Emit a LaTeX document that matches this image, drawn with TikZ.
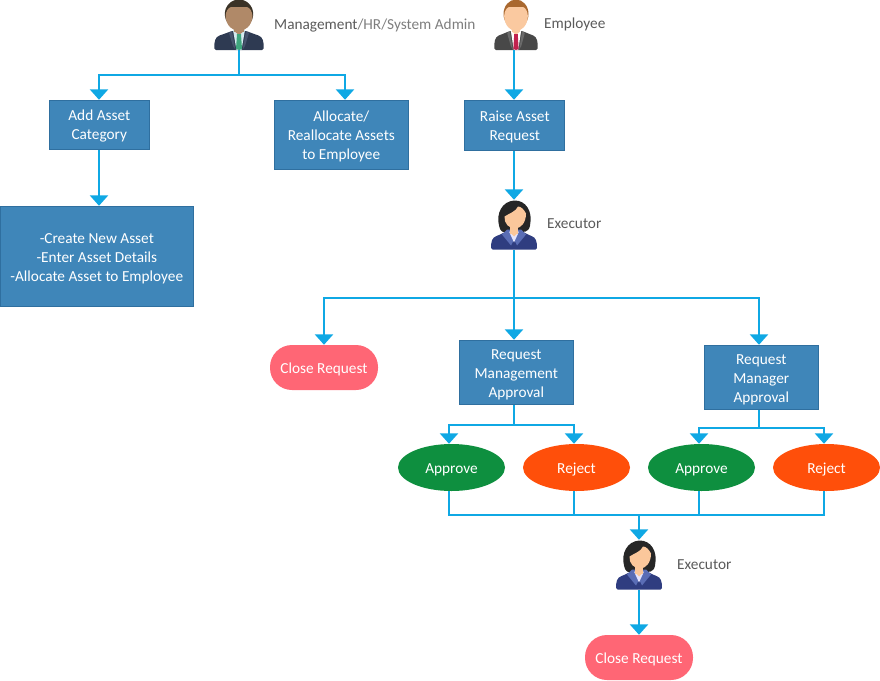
\documentclass[tikz,border=0pt]{standalone}
\usepackage{fontspec}
\setmainfont{Carlito}
\usetikzlibrary{arrows.meta,shapes.geometric}
\definecolor{linkc}{HTML}{0FA8E4}
\definecolor{boxc}{HTML}{3F86B9}
\definecolor{boxe}{HTML}{2F6F9F}
\definecolor{labc}{HTML}{5A5A5A}
\definecolor{labl}{HTML}{7E7E7E}
\definecolor{pinkc}{HTML}{FF6675}
\definecolor{greenc}{HTML}{0E8F3F}
\definecolor{redc}{HTML}{FF4F0A}
\definecolor{womansuit}{HTML}{2F3D80}
\definecolor{womanlap}{HTML}{5A6DB5}
\definecolor{womanskin}{HTML}{FBC79B}
\definecolor{mhair}{HTML}{3A3226}
\definecolor{mskin}{HTML}{B08968}
\definecolor{msuit}{HTML}{2E3A52}
\definecolor{mlap}{HTML}{46526C}
\definecolor{mshirt}{HTML}{D5EAF0}
\definecolor{mtie}{HTML}{3FA67E}
\definecolor{ehair}{HTML}{A9682F}
\definecolor{eskin}{HTML}{FAC9A0}
\definecolor{esuit}{HTML}{484848}
\definecolor{elap}{HTML}{6A6A6A}
\definecolor{eshirt}{HTML}{FFFFFF}
\definecolor{etie}{HTML}{C2224F}
\newcommand{\firstl}{\rule{0pt}{14pt}}
\tikzset{
  txt/.style={font=\fontsize{15.3}{19}\selectfont},
  box/.style={txt,draw=boxe,line width=0.6pt,fill=boxc,text=white,align=center,inner sep=0pt},
  pill/.style={txt,draw=none,fill=pinkc,text=white,rounded corners=22pt,inner sep=0pt,minimum width=108pt,minimum height=45pt,text height=16pt,text depth=3.5pt},
  oval/.style={txt,ellipse,draw=none,text=white,inner sep=0pt,minimum width=107pt,minimum height=47pt,text height=16pt,text depth=3.5pt},
  who/.style={draw=none,fill=none,inner sep=0pt,minimum width=46pt,minimum height=50pt},
  lab/.style={txt,text=labc,anchor=west,inner sep=0pt},
  link/.style={draw=linkc,line width=2.9pt,line join=miter},
  tip/.style={link,-{Triangle[width=18pt,length=10.5pt]}}
}
% man figure: origin at bottom centre of the bust
\newcommand{\manfig}[9]{% xscale, cx, bottomy, hair, skin, suit, lapel, shirt, tie
  \begin{scope}[shift={(#2,#3)},xscale=#1]
    \fill[#6,rounded corners=1.5pt] (-24.5,0) .. controls (-25,-8) and (-24,-13) .. (-18,-15) -- (-7,-19) -- (7,-19) -- (18,-15) .. controls (24,-13) and (25,-8) .. (24.5,0) -- cycle;
    \fill[#8] (-6,-20) -- (6,-20) -- (2.5,0) -- (-2.5,0) -- cycle;
    \fill[#5] (-5,-26) rectangle (5,-18);
    \fill[#5] (-5,-19) -- (5,-19) -- (0,-15) -- cycle;
    \fill[#9] (-2,-16) -- (2,-16) -- (3,-1) -- (0,0) -- (-3,-1) -- cycle;
    \fill[#7] (-7,-19) -- (-10,-17) -- (-6,-4) -- (-3.5,0) -- cycle;
    \fill[#7] (7,-19) -- (10,-17) -- (6,-4) -- (3.5,0) -- cycle;
    \fill[#4] (0,-36) ellipse [x radius=14.2pt,y radius=14.5pt];
    \fill[#5] (-13.5,-34) .. controls (-13,-24) and (-6,-19) .. (0,-19) .. controls (6,-19) and (13,-24) .. (13.5,-34) .. controls (13,-39) and (11,-42) .. (8,-43) -- (-8,-43) .. controls (-11,-42) and (-13,-39) .. (-13.5,-34) -- cycle;
  \end{scope}}
% woman figure
\newcommand{\womanfig}[2]{%
  \begin{scope}[shift={(#1,#2)}]
    \fill[black!85] (-15,-24) .. controls (-18,-36) and (-12,-48) .. (0,-49) .. controls (12,-49.5) and (19,-38) .. (16,-24) .. controls (15,-17) and (9,-17) .. (5,-18) -- (-6,-18) .. controls (-11,-16) and (-14,-18) .. (-15,-24) -- cycle;
    \fill[womansuit,rounded corners=1.5pt] (-23,0) .. controls (-23,-8) and (-22,-12) .. (-16,-14) -- (-6,-19) -- (6,-19) -- (16,-14) .. controls (22,-12) and (23,-8) .. (23,0) -- cycle;
    \fill[womanlap] (-7,-20) -- (-12,-15) -- (-3,-4) -- (0,-10) -- (3,-4) -- (12,-15) -- (7,-20) -- cycle;
    \fill[white!90!blue] (-5,-18) -- (5,-18) -- (0,-7) -- cycle;
    \fill[womanskin] (-4,-24) rectangle (4,-16);
    \fill[womanskin] (-4,-17) -- (4,-17) -- (0,-13) -- cycle;
    \fill[womanskin] (-9.5,-33) .. controls (-10,-26) and (-5,-21) .. (1,-21) .. controls (7,-21) and (12,-27) .. (12,-36) .. controls (10,-40) and (7,-43) .. (4,-43) .. controls (2,-38) and (-5,-36) .. (-9.5,-33) -- cycle;
  \end{scope}}
\begin{document}
\begin{tikzpicture}[x=1pt,y=-1pt]
\useasboundingbox (0,0) rectangle (880,680);
% people
\node[who,minimum width=50pt] (mgr) at (239,25) {};
\node[who,minimum width=44pt] (emp) at (514,25) {};
\node[who] (ex1) at (514,225) {};
\node[who] (ex2) at (639,565) {};
\manfig{1}{239}{50}{mhair}{mskin}{msuit}{mlap}{mshirt}{mtie}
\manfig{0.88}{516}{50}{ehair}{eskin}{esuit}{elap}{eshirt}{etie}
\womanfig{514}{249.5}
\womanfig{639}{589.5}
% labels
\node[lab] (lmgr) at (274,26) {Management\textcolor{labl}{/HR/System Admin}};
\node[lab] (lemp) at (544,24) {Employee};
\node[lab] (lex1) at (547,224) {Executor};
\node[lab] (lex2) at (677,565) {Executor};
% boxes
\node[box,minimum width=100.4pt,minimum height=49.4pt] (add) at (99.3,124.8) {\firstl Add Asset\\Category};
\node[box,minimum width=134.4pt,minimum height=69.4pt] (alloc) at (341.3,134.8) {\firstl Allocate/\\Reallocate Assets\\to Employee};
\node[box,minimum width=100.4pt,minimum height=50.4pt] (raise) at (514.3,125.3) {\firstl \hspace{1pt}Raise Asset\\\hspace{1pt}Request};
\node[box,minimum width=193.4pt,minimum height=100.4pt] (create) at (96.8,256.3) {\firstl -Create New Asset\\-Enter Asset Details\\-Allocate Asset to Employee};
\node[pill] (close1) at (324,367.5) {Close Request};
\node[box,minimum width=114.4pt,minimum height=64.4pt] (rma) at (516.3,372.3) {\firstl Request\\Management\\Approval};
\node[box,minimum width=114.4pt,minimum height=64.4pt] (rmr) at (761.3,377.3) {\firstl Request\\Manager\\Approval};
\node[oval,fill=greenc] (ap1) at (451.5,467.5) {Approve};
\node[oval,fill=redc] (re1) at (576.5,467.5) {Reject};
\node[oval,fill=greenc] (ap2) at (701.5,467.5) {Approve};
\node[oval,fill=redc] (re2) at (826.5,467.5) {Reject};
\node[pill] (close2) at (639,657.5) {Close Request};
% junctions
\coordinate (j1) at (239,75);
\coordinate (j2) at (514,298);
\coordinate (j3) at (514,425);
\coordinate (j4) at (759,428);
\coordinate (j5) at (639,515);
% connectors
\draw[tip] (mgr.south) -- (j1) -| ([xshift=-0.3pt]add.north);
\draw[tip] (mgr.south) -- (j1) -| ([xshift=3.7pt]alloc.north);
\draw[tip] (emp.south) -- ([xshift=-0.3pt]raise.north);
\draw[tip] ([xshift=-0.3pt]add.south) -- ([xshift=2.2pt]create.north);
\draw[tip] ([xshift=-0.3pt]raise.south) -- (ex1.north);
\draw[tip] (ex1.south) -- ([xshift=-2.3pt]rma.north);
\draw[tip] (ex1.south) -- (j2) -| (close1.north);
\draw[tip] (ex1.south) -- (j2) -| ([xshift=-2.3pt]rmr.north);
\draw[tip] ([xshift=-2.3pt]rma.south) -- (j3) -| ([xshift=-2.5pt]ap1.north);
\draw[tip] ([xshift=-2.3pt]rma.south) -- (j3) -| ([xshift=-2.5pt]re1.north);
\draw[tip] ([xshift=-2.3pt]rmr.south) -- (j4) -| ([xshift=-2.5pt]ap2.north);
\draw[tip] ([xshift=-2.3pt]rmr.south) -- (j4) -| ([xshift=-2.5pt]re2.north);
\draw[link] ([xshift=-2.5pt]ap1.south) |- (j5);
\draw[link] ([xshift=-2.5pt]re1.south) |- (j5);
\draw[link] ([xshift=-2.5pt]ap2.south) |- (j5);
\draw[link] ([xshift=-2.5pt]re2.south) |- (j5);
\draw[tip] (j5) -- (ex2.north);
\draw[tip] (ex2.south) -- (close2.north);
\end{tikzpicture}
\end{document}
